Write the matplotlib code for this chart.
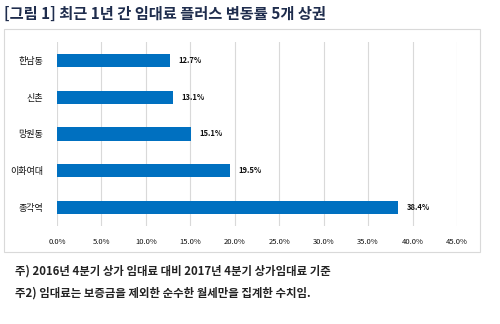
import numpy as np
import matplotlib.pyplot as plt
from matplotlib.patches import Rectangle
from matplotlib.ticker import PercentFormatter

plt.rcParams['font.family'] = ['Noto Sans CJK KR', 'DejaVu Sans']

areas = ['한남동', '신촌', '망원동', '이화여대', '종각역']
changes = [12.7, 13.1, 15.1, 19.5, 38.4]
xticks = np.arange(0, 50, 5)

title = '[그림 1] 최근 1년 간 임대료 플러스 변동률 5개 상권'
notes = ['주) 2016년 4분기 상가 임대료 대비 2017년 4분기 상가임대료 기준',
         '주2) 임대료는 보증금을 제외한 순수한 월세만을 집계한 수치임.']

fig = plt.figure(figsize=(5, 3.24), dpi=100)
fig.patch.set_facecolor('white')

# chart frame
fig.patches.append(Rectangle((4 / 500, 1 - 252 / 324), 476 / 500, 223 / 324,
                             transform=fig.transFigure, fill=False,
                             edgecolor='#d9d9d9', linewidth=0.8))

ax = fig.add_axes([57 / 500, 1 - 226 / 324, 400 / 500, 184 / 324])
y = np.arange(len(areas))
ax.barh(y, changes, height=0.36, color='#0070c0', zorder=3)
for yi, v in zip(y, changes):
    ax.text(v + 0.9, yi, f'{v:.1f}%', va='center', ha='left',
            fontsize=5.5, fontweight='bold', color='#111111')

ax.set_xlim(0, 45)
ax.set_ylim(len(areas) - 0.5, -0.5)
ax.set_xticks(xticks)
ax.xaxis.set_major_formatter(PercentFormatter(decimals=1))
ax.set_yticks(y)
ax.set_yticklabels(areas)
ax.tick_params(axis='x', length=0, pad=9, labelsize=5.5, labelcolor='#111111')
ax.tick_params(axis='y', length=0, pad=10, labelsize=6.5, labelcolor='#111111')
ax.grid(axis='x', color='#d9d9d9', linewidth=0.8, zorder=0)
for s in ax.spines.values():
    s.set_visible(False)

fig.text(4 / 500, 1 - 14 / 324, title, fontsize=11, fontweight='bold',
         color='#1f2d4d', va='center', ha='left')
fig.text(15 / 500, 1 - 271 / 324, notes[0], fontsize=8.2, fontweight='bold',
         color='#222222', va='center', ha='left')
fig.text(15 / 500, 1 - 293 / 324, notes[1], fontsize=8.2, fontweight='bold',
         color='#222222', va='center', ha='left')

fig.savefig('out.png', dpi=100)
